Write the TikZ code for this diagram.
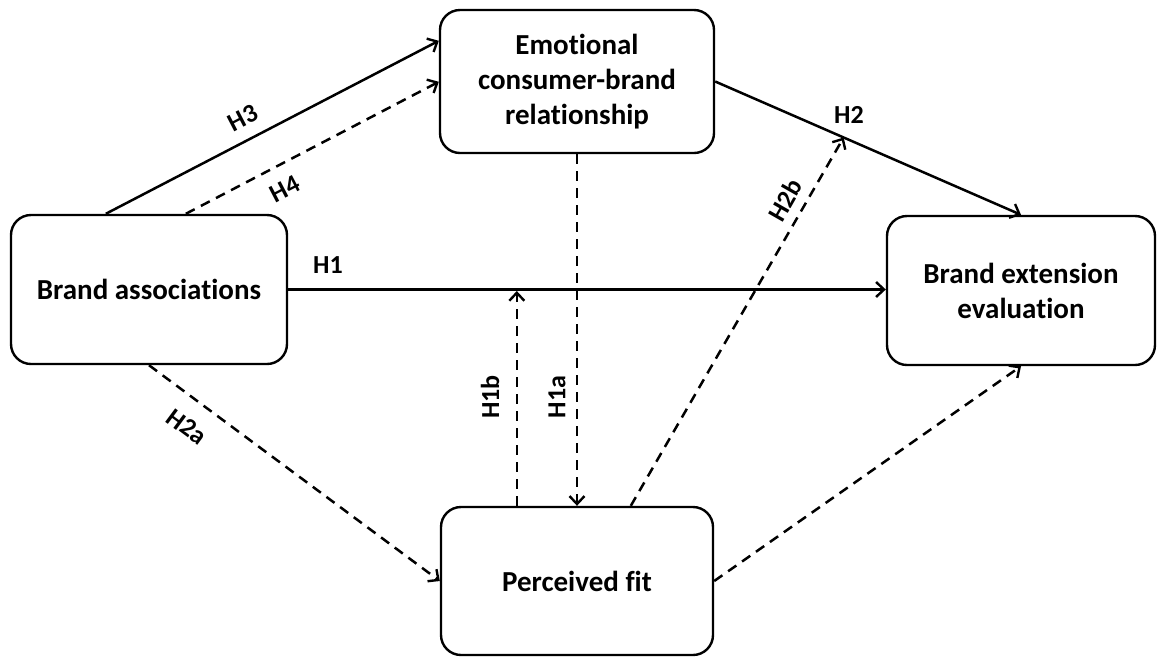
\documentclass[tikz,border=0pt]{standalone}
\usepackage{fontspec}
\setmainfont{Carlito}[Ligatures=NoCommon]
\usetikzlibrary{arrows.meta}
\begin{document}
\begin{tikzpicture}[x=1pt,y=-1pt,
  conbox/.style={draw, line width=2.4pt, rounded corners=20pt, inner sep=0pt,
    align=center, font=\bfseries\fontsize{29}{35}\selectfont},
  link/.style={line width=2.5pt, -{Straight Barb[length=8pt,width=15pt,line width=2.4pt]}},
  dashlink/.style={link, dash pattern=on 10pt off 7pt},
  hyp/.style={font=\bfseries\fontsize{26}{30}\selectfont, inner sep=0pt}]
\useasboundingbox (0,0) rectangle (1158,657);

% constructs
\node[conbox, minimum width=274pt, minimum height=143pt] (emo) at (577,81.5)
  {Emotional\\consumer-brand\\relationship};
\node[conbox, minimum width=276pt, minimum height=149pt] (ba) at (149,289.5)
  {Brand associations};
\node[conbox, minimum width=268pt, minimum height=149pt] (bee) at (1021,290.5)
  {Brand extension\\evaluation};
\node[conbox, minimum width=272pt, minimum height=148pt] (pf) at (577,581)
  {Perceived fit};

% direct paths
\draw[link] ([xshift=96pt]ba.north west) -- ([yshift=-32pt]emo.north west);
\draw[dashlink] ([xshift=176pt]ba.north west) -- ([yshift=-73pt]emo.north west);
\draw[link] (ba.east) -- (ba.east -| bee.west);
\draw[link] (emo.east) -- (bee.north) coordinate[pos=0.42] (h2pt);

% paths through perceived fit
\draw[dashlink] (ba.south) -- (pf.west);
\coordinate (h1bfoot) at ([xshift=77pt]pf.north west);
\draw[dashlink, shorten >=1.5pt] (h1bfoot) -- (h1bfoot |- ba.east);
\draw[dashlink] (emo.south) -- (pf.north);
\draw[dashlink] ([xshift=191pt]pf.north west) -- (h2pt);
\draw[dashlink] (pf.east) -- (bee.south);

% hypothesis labels
\node[hyp, rotate=27.4] (lh3) at (243,118) {H3};
\node[hyp, rotate=27.5] (lh4) at (285,189) {H4};
\node[hyp] (lh1) at (328,265) {H1};
\node[hyp] (lh2) at (849,115) {H2};
\node[hyp, rotate=60.3] (lh2b) at (785,200) {H2b};
\node[hyp, rotate=-36.5] (lh2a) at (187,427) {H2a};
\node[hyp, rotate=90] (lh1b) at (490,397) {H1b};
\node[hyp, rotate=90] (lh1a) at (557,397) {H1a};
\end{tikzpicture}
\end{document}
